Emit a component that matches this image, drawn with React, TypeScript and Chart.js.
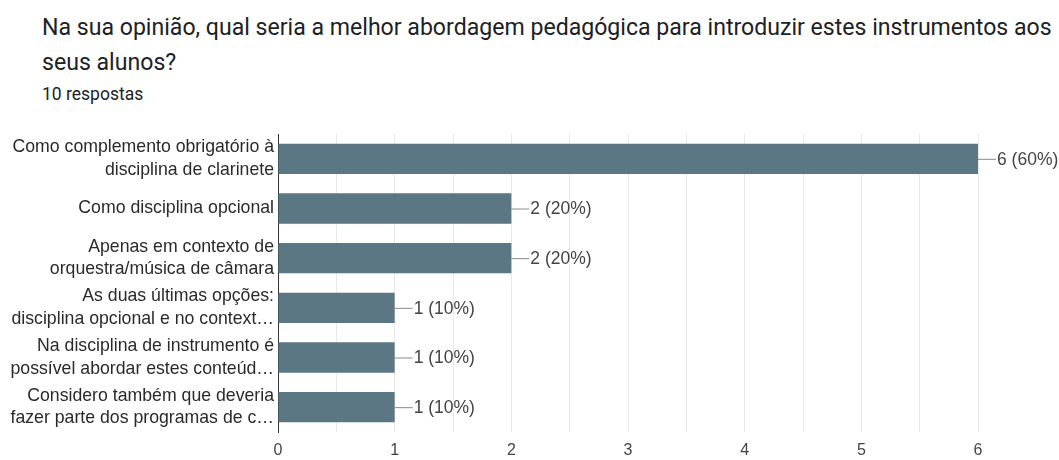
import React, { useEffect, useRef } from "react";
import { Chart, registerables } from "chart.js";

Chart.register(...registerables);

const titleLine1 = "Na sua opinião, qual seria a melhor abordagem pedagógica para introduzir estes instrumentos aos";
const titleLine2 = "seus alunos?";
const subtitle = "10 respostas";

const categories: string[][] = [
  ["Como complemento obrigatório à", "disciplina de clarinete"],
  ["Como disciplina opcional"],
  ["Apenas em contexto de", "orquestra/música de câmara"],
  ["As duas últimas opções:", "disciplina opcional e no context…"],
  ["Na disciplina de instrumento é", "possível abordar estes conteúd…"],
  ["Considero também que deveria", "fazer parte dos programas de c…"],
];
const counts: number[] = [6, 2, 2, 1, 1, 1];
const percents: number[] = [60, 20, 20, 10, 10, 10];
const xTicks: number[] = [0, 1, 2, 3, 4, 5, 6];

const BAR_COLOR = "#5b7784";
const LABEL_FONT = "'Liberation Sans', Arial, sans-serif";

const valueLabelPlugin = {
  id: "valueLabels",
  afterDatasetsDraw(chart: any) {
    const ctx = chart.ctx;
    const meta = chart.getDatasetMeta(0);
    ctx.save();
    ctx.font = `17.5px ${LABEL_FONT}`;
    ctx.textBaseline = "middle";
    ctx.textAlign = "left";
    meta.data.forEach((bar: any, i: number) => {
      const x = bar.x;
      const y = bar.y;
      ctx.strokeStyle = "#8a8a8a";
      ctx.lineWidth = 1;
      ctx.beginPath();
      ctx.moveTo(x, y + 0.5);
      ctx.lineTo(x + 18, y + 0.5);
      ctx.stroke();
      ctx.fillStyle = "#444444";
      ctx.fillText(`${counts[i]} (${percents[i]}%)`, x + 19, y + 1);
    });
    ctx.restore();
  },
};

export default function App() {
  const ref = useRef<HTMLCanvasElement>(null);
  useEffect(() => {
    if (!ref.current) return;
    const chart = new Chart(ref.current, {
      type: "bar",
      data: {
        labels: categories,
        datasets: [
          {
            data: counts,
            backgroundColor: BAR_COLOR,
            borderWidth: 0,
            barPercentage: 0.61,
            categoryPercentage: 1,
          },
        ],
      },
      options: {
        indexAxis: "y",
        animation: false,
        responsive: true,
        maintainAspectRatio: false,
        layout: { padding: { top: 134, right: 81, bottom: 0, left: 0 } },
        plugins: {
          legend: { display: false },
          tooltip: { enabled: false },
          title: { display: false },
        },
        scales: {
          x: {
            min: 0,
            max: 6,
            afterBuildTicks: (scale: any) => {
              const t: any[] = [];
              for (let v = 0; v <= 6; v += 0.5) t.push({ value: v });
              scale.ticks = t;
            },
            afterFit: (scale: any) => {
              scale.height = 28;
            },
            ticks: {
              autoSkip: false,
              maxRotation: 0,
              padding: 9,
              color: "#444444",
              font: { family: LABEL_FONT, size: 16 },
              callback: (v: any) => (xTicks.includes(Number(v)) ? String(v) : ""),
            },
            grid: { color: "#e8e8e8", drawTicks: false, lineWidth: 1 },
            border: { display: false },
          },
          y: {
            afterFit: (scale: any) => {
              scale.width = 278;
            },
            ticks: {
              padding: 4,
              color: "#2a2a2a",
              font: { family: LABEL_FONT, size: 17.7, lineHeight: 1.27 },
            },
            grid: { display: false, drawTicks: false },
            border: { display: true, color: "#333333", width: 1 },
          },
        },
      },
      plugins: [valueLabelPlugin],
    });
    return () => chart.destroy();
  }, []);

  return (
    <div style={{ position: "fixed", left: 0, top: 0, width: 1059, height: 460, background: "#fff", overflow: "hidden" }}>
      <div style={{ position: "absolute", left: 42, top: 10, fontFamily: "Roboto, sans-serif", fontSize: 23.1, color: "#202124", lineHeight: "35px", whiteSpace: "nowrap" }}>
        <div>{titleLine1}</div>
        <div>{titleLine2}</div>
      </div>
      <div style={{ position: "absolute", left: 42, top: 84, fontFamily: "Roboto, sans-serif", fontSize: 17.5, color: "#202124", whiteSpace: "nowrap" }}>
        {subtitle}
      </div>
      <div style={{ position: "absolute", left: 0, top: 0, width: 1059, height: 460 }}>
        <canvas ref={ref} />
      </div>
    </div>
  );
}
